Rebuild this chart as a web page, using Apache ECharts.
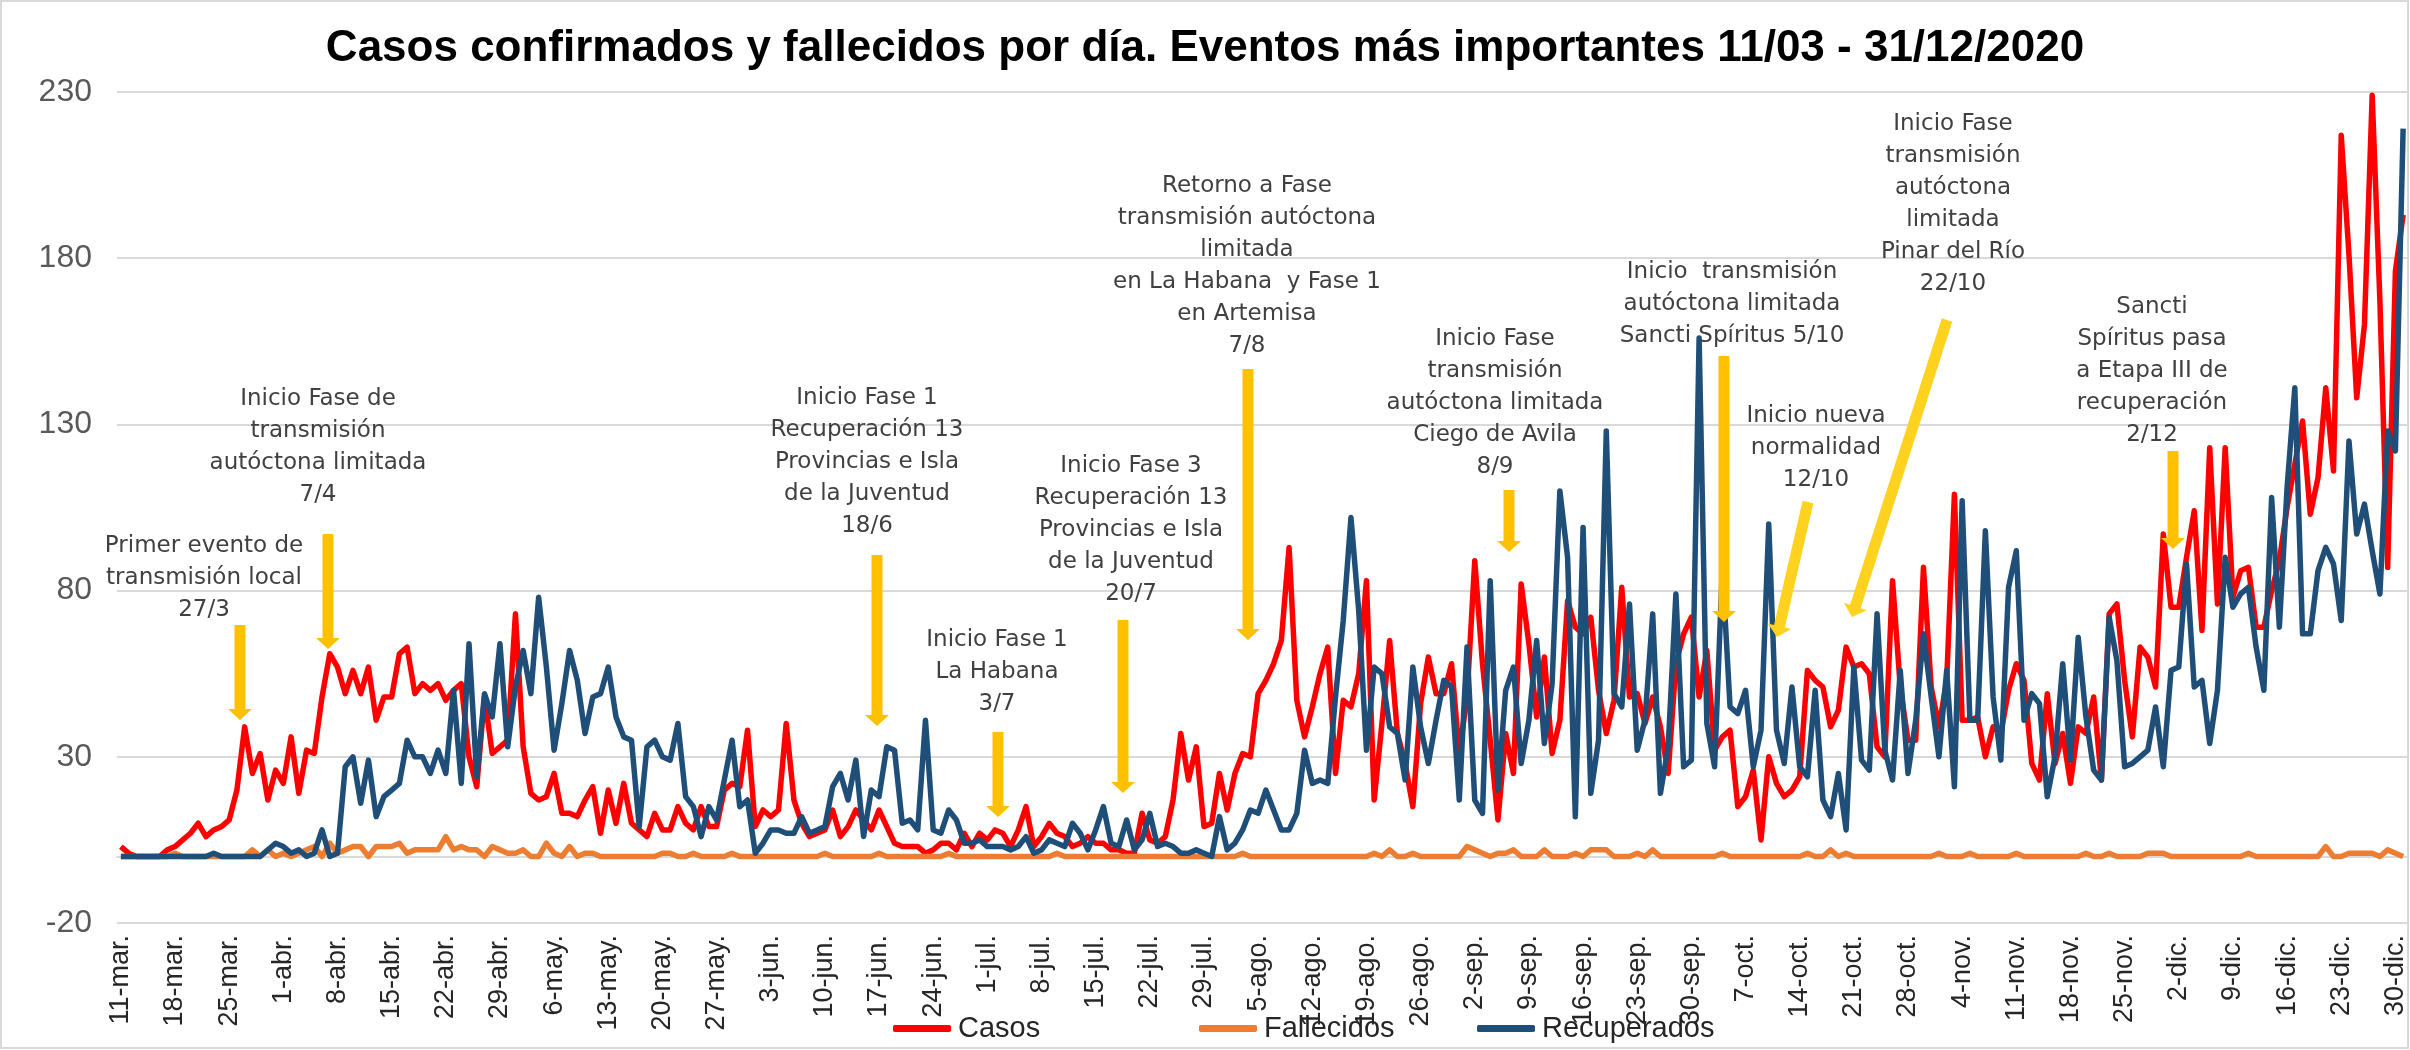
<!DOCTYPE html>
<html lang="es">
<head>
<meta charset="UTF-8">
<title>Casos confirmados y fallecidos por día</title>
<script src="https://cdn.jsdelivr.net/npm/echarts/dist/echarts.min.js"></script>
<style>
  html, body { margin: 0; padding: 0; background: #fff; }
  #main { width: 2410px; height: 1050px; }
</style>
</head>
<body>
<div id="main"></div>
<script>
// eje x: un punto por día del 11/03 al 31/12/2020
var meses = ['mar.', 'abr.', 'may.', 'jun.', 'jul.', 'ago.', 'sep.', 'oct.', 'nov.', 'dic.'];
var diasMes = [31, 30, 31, 30, 31, 31, 30, 31, 30, 31];
var dias = [];
for (var m = 0; m < meses.length; m++) {
    for (var d = (m === 0 ? 11 : 1); d <= diasMes[m]; d++) dias.push(d + '-' + meses[m]);
}

var casos = [
    3,1,0,0,0,0,2,3,5,7,
    10,6,8,9,11,20,39,25,31,17,
    26,22,36,19,32,31,48,61,57,49,
    56,49,57,41,48,48,61,63,49,52,
    50,52,47,50,52,30,21,48,31,33,
    35,73,33,19,17,18,25,13,13,12,
    17,21,7,20,10,22,10,8,6,13,
    8,8,15,10,8,15,9,9,20,22,
    21,38,9,14,12,14,40,17,10,6,
    7,8,14,6,9,14,11,8,14,9,
    4,3,3,3,1,2,4,4,2,7,
    3,7,5,8,7,3,8,15,3,6,
    10,7,6,3,4,6,4,4,2,2,
    1,1,13,5,4,6,17,37,23,33,
    9,10,25,14,25,31,30,49,53,58,
    65,93,47,36,45,55,63,25,47,45,
    55,83,17,40,65,37,28,15,46,60,
    49,49,58,31,48,89,58,35,11,37,
    25,82,64,42,60,31,41,77,69,67,
    72,50,37,47,81,48,49,40,48,39,
    25,58,67,72,48,62,32,36,38,15,
    18,26,5,30,22,18,20,24,56,53,
    51,39,44,63,57,58,55,33,30,83,
    51,35,35,87,51,39,53,109,41,41,
    42,30,39,37,50,58,53,28,23,49,
    28,37,22,39,37,48,23,73,76,53,
    36,63,60,51,97,75,75,90,104,68,
    123,76,123,78,86,87,69,69,80,89,
    105,118,131,103,114,141,116,217,181,138,
    160,229,167,87,176,193
];

var fallecidos = [
    0,0,0,0,0,0,0,1,0,0,
    0,0,0,0,0,0,0,2,0,2,
    0,1,0,1,2,3,0,4,1,2,
    3,3,0,3,3,3,4,1,2,2,
    2,2,6,2,3,2,2,0,3,2,
    1,1,2,0,0,4,1,0,3,0,
    1,1,0,0,0,0,0,0,0,0,
    1,1,0,0,1,0,0,0,0,1,
    0,0,0,0,0,0,0,0,0,0,
    0,1,0,0,0,0,0,0,1,0,
    0,0,0,0,0,0,0,1,0,0,
    0,0,0,0,0,0,0,0,0,0,
    0,1,0,0,0,0,0,0,0,0,
    0,0,0,0,0,0,0,0,0,0,
    0,0,0,0,0,1,0,0,0,0,
    0,0,0,0,0,0,0,0,0,0,
    0,0,1,0,2,0,0,1,0,0,
    0,0,0,0,3,2,1,0,1,1,
    2,0,0,0,2,0,0,0,1,0,
    2,2,2,0,0,0,1,0,2,0,
    0,0,0,0,0,0,0,1,0,0,
    0,0,0,0,0,0,0,0,1,0,
    0,2,0,1,0,0,0,0,0,0,
    0,0,0,0,0,1,0,0,0,1,
    0,0,0,0,0,1,0,0,0,0,
    0,0,0,0,1,0,0,1,0,0,
    0,0,1,1,1,0,0,0,0,0,
    0,0,0,0,0,1,0,0,0,0,
    0,0,0,0,0,3,0,0,1,1,
    1,1,0,2,1,0
];

var recuperados = [
    0,0,0,0,0,0,0,0,0,0,
    0,0,1,0,0,0,0,0,0,2,
    4,3,1,2,0,1,8,0,1,27,
    30,16,29,12,18,20,22,35,30,30,
    25,32,25,50,22,64,24,49,42,64,
    33,51,62,49,78,57,32,46,62,53,
    37,48,49,57,42,36,35,9,33,35,
    30,29,40,18,15,6,15,11,23,35,
    15,17,1,4,8,8,7,7,12,7,
    8,9,21,25,17,29,6,20,18,33,
    32,10,11,8,41,8,7,14,11,4,
    4,5,3,3,3,2,3,6,1,2,
    5,4,3,10,7,2,8,15,4,3,
    11,2,5,13,3,4,3,1,1,2,
    1,0,12,2,4,8,14,13,20,14,
    8,8,13,32,22,23,22,48,71,102,
    74,32,57,55,39,37,23,57,39,28,
    41,53,51,17,63,17,13,83,20,50,
    57,28,41,65,34,52,110,90,12,99,
    19,35,128,49,45,76,32,41,73,19,
    33,79,27,29,156,40,27,87,45,43,
    50,27,38,100,38,28,51,27,24,50,
    17,12,25,8,57,29,26,73,32,23,
    56,25,41,67,48,30,56,21,107,41,
    41,98,48,29,81,92,41,49,46,18,
    30,58,29,66,42,26,23,72,59,27,
    28,30,32,45,27,56,57,88,51,53,
    34,50,90,75,79,81,63,50,108,69,
    111,141,67,67,86,93,88,71,125,97,
    106,92,79,128,122,219
];

// eventos: texto, centro x, top y (px)
var eventos = [
    { t: 'Primer evento de\ntransmisión local\n27/3', x: 204, y: 530 },
    { t: 'Inicio Fase de\ntransmisión\nautóctona limitada\n7/4', x: 318, y: 383 },
    { t: 'Inicio Fase 1\nRecuperación 13\nProvincias e Isla\nde la Juventud\n18/6', x: 867, y: 382 },
    { t: 'Inicio Fase 1\nLa Habana\n3/7', x: 997, y: 624 },
    { t: 'Inicio Fase 3\nRecuperación 13\nProvincias e Isla\nde la Juventud\n20/7', x: 1131, y: 450 },
    { t: 'Retorno a Fase\ntransmisión autóctona\nlimitada\nen La Habana  y Fase 1\nen Artemisa\n7/8', x: 1247, y: 170 },
    { t: 'Inicio Fase\ntransmisión\nautóctona limitada\nCiego de Avila\n8/9', x: 1495, y: 323 },
    { t: 'Inicio  transmisión\nautóctona limitada\nSancti Spíritus 5/10', x: 1732, y: 256 },
    { t: 'Inicio nueva\nnormalidad\n12/10', x: 1816, y: 400 },
    { t: 'Inicio Fase\ntransmisión\nautóctona\nlimitada\nPinar del Río\n22/10', x: 1953, y: 108 },
    { t: 'Sancti\nSpíritus pasa\na Etapa III de\nrecuperación\n2/12', x: 2152, y: 291 }
];

// flechas: inicio (x1,y1) -> punta (x2,y2)
var flechas = [
    [240, 625, 240, 720, '#FFC000'],
    [328, 534, 328, 649, '#FFC000'],
    [877, 555, 877, 726, '#FFC000'],
    [998, 732, 998, 817, '#FFC000'],
    [1123, 620, 1123, 793, '#FFC000'],
    [1248, 369, 1248, 640, '#FFC000'],
    [1509, 490, 1509, 552, '#FFC000'],
    [1724, 356, 1724, 622, '#FFC000'],
    [1808, 502, 1777, 637, '#FFD21F'],
    [1947, 320, 1852, 617, '#FFD21F'],
    [2173, 451, 2173, 549, '#FFC000']
];

function flecha(x1, y1, x2, y2, color) {
    var dx = x2 - x1, dy = y2 - y1, len = Math.sqrt(dx * dx + dy * dy);
    var ux = dx / len, uy = dy / len, nx = -uy, ny = ux;
    var sw = 5.5, hw = 12, hl = 11;
    var bx = x2 - ux * hl, by = y2 - uy * hl;
    return {
        type: 'polygon', z: 50,
        shape: { points: [
            [x1 + nx * sw, y1 + ny * sw], [bx + nx * sw, by + ny * sw], [bx + nx * hw, by + ny * hw],
            [x2, y2],
            [bx - nx * hw, by - ny * hw], [bx - nx * sw, by - ny * sw], [x1 - nx * sw, y1 - ny * sw]
        ] },
        style: { fill: color }
    };
}

var graficos = [{
    type: 'rect', z: 0, silent: true,
    shape: { x: 1, y: 1, width: 2407, height: 1047 },
    style: { fill: 'none', stroke: '#D9D9D9', lineWidth: 2 }
}];
eventos.forEach(function (e) {
    graficos.push({
        type: 'text', z: 60,
        style: {
            text: e.t, x: e.x, y: e.y, align: 'center', verticalAlign: 'top',
            fontSize: 23, fontFamily: 'DejaVu Sans',
            lineHeight: 32, fill: '#404040'
        }
    });
});
flechas.forEach(function (f) { graficos.push(flecha(f[0], f[1], f[2], f[3], f[4])); });

var fuente = 'Liberation Sans';

// una leyenda por serie para reproducir las posiciones del original
function leyenda(nombre, x) {
    return {
        left: x, top: 1009, itemWidth: 58, itemHeight: 7, itemGap: 0, icon: 'roundRect',
        textStyle: { fontFamily: fuente, fontSize: 29, color: '#262626', padding: [0, 0, 0, 2] },
        data: [nombre]
    };
}

var myChart = echarts.init(document.getElementById('main'));
myChart.setOption({
    animation: false,
    title: {
        text: 'Casos confirmados y fallecidos por día. Eventos más importantes 11/03 - 31/12/2020',
        left: 'center', top: 22,
        textStyle: { fontFamily: fuente, fontSize: 44, fontWeight: 'bold', color: '#000' }
    },
    legend: [leyenda('Casos', 888), leyenda('Fallecidos', 1194), leyenda('Recuperados', 1472)],
    grid: { left: 117, right: 3, top: 92, bottom: 127 },
    xAxis: {
        type: 'category',
        data: dias,
        boundaryGap: true,
        axisLine: { onZero: true, lineStyle: { color: '#D9D9D9', width: 2 } },
        axisTick: { interval: 6, length: 9, lineStyle: { color: '#D9D9D9', width: 2 } },
        axisLabel: {
            interval: 6, rotate: 90, margin: 12,
            fontFamily: fuente, fontSize: 27, color: '#262626'
        },
        splitLine: { show: false }
    },
    yAxis: {
        type: 'value',
        min: -20, max: 230, interval: 50,
        axisLine: { show: false },
        axisTick: { show: false },
        axisLabel: { margin: 25, fontFamily: fuente, fontSize: 32, color: '#595959' },
        splitLine: { lineStyle: { color: '#D9D9D9', width: 2 } }
    },
    series: [
        {
            name: 'Casos', type: 'line', data: casos, showSymbol: false, symbol: 'none',
            itemStyle: { color: '#FF0000' },
            lineStyle: { color: '#FF0000', width: 5.5, join: 'round' }
        },
        {
            name: 'Fallecidos', type: 'line', data: fallecidos, showSymbol: false, symbol: 'none',
            itemStyle: { color: '#ED7D31' },
            lineStyle: { color: '#ED7D31', width: 5.5, join: 'round' }
        },
        {
            name: 'Recuperados', type: 'line', data: recuperados, showSymbol: false, symbol: 'none',
            itemStyle: { color: '#1F4E79' },
            lineStyle: { color: '#1F4E79', width: 5.5, join: 'round' }
        }
    ],
    graphic: graficos
});
</script>
</body>
</html>
